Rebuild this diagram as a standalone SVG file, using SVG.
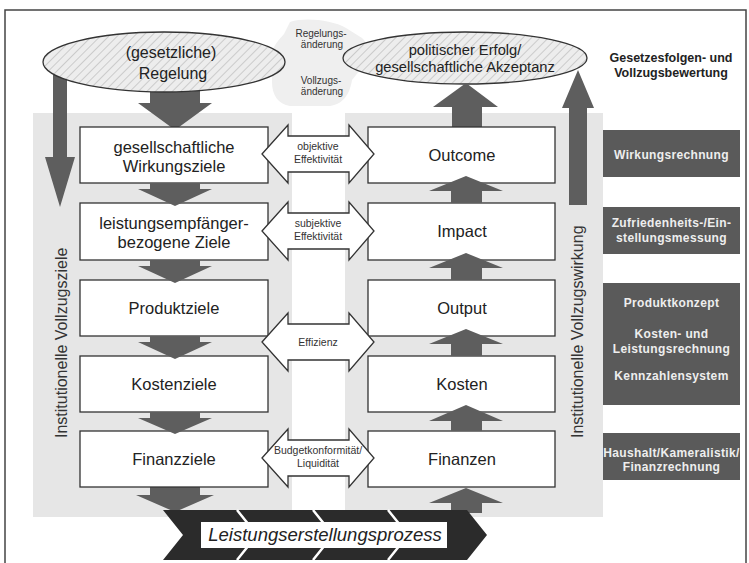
<svg xmlns="http://www.w3.org/2000/svg" width="749" height="563" viewBox="0 0 749 563">
  <style>
    text { font-family: "Liberation Sans", Arial, sans-serif; fill: #222; }
    .box { fill: #ffffff; stroke: #333; stroke-width: 1.3; }
    .lbl { font-size: 16.5px; text-anchor: middle; }
    .ell { fill: url(#hatch); stroke: #333; stroke-width: 1.3; }
    .elltxt { text-anchor: middle; }
    .dbl { fill: #ffffff; stroke: #333; stroke-width: 1.3; }
    .small { font-size: 10.5px; text-anchor: middle; fill: #333; }
    .note { font-size: 10px; text-anchor: middle; fill: #333; }
    .arrow { fill: #5e5e5e; }
    .panel { fill: #e6e6e6; }
    .dark { fill: #5a5a5a; }
    .darktxt { font-size: 12px; font-weight: bold; fill: #eeeeee; text-anchor: middle; letter-spacing: 0.35px; }
    .vert { font-size: 16px; fill: #333; }
  </style>
  <defs>
    <pattern id="hatch" width="6" height="6" patternUnits="userSpaceOnUse" patternTransform="rotate(45)">
      <rect width="6" height="6" fill="#ededed"/>
      <line x1="0" y1="0" x2="0" y2="6" stroke="#b5b5b5" stroke-width="1.2"/>
    </pattern>
  </defs>

  <rect width="749" height="563" fill="#ffffff"/>
  <!-- outer frame -->
  <rect x="5" y="10" width="741" height="560" fill="none" stroke="#444" stroke-width="1.5"/>

  <!-- background panels -->
  <g id="panels">
    <rect class="panel" x="33" y="113" width="259" height="404"/>
    <rect class="panel" x="345" y="113" width="258" height="404"/>
    <path d="M290,22 C305,17 332,20 346,28 L362,38 C371,46 369,62 360,70 L352,80 C350,93 344,104 330,106 L290,106 C278,104 272,95 272,82 L272,56 C272,46 279,40 284,34 Z" fill="#efefef"/>
  </g>

  <!-- centre notes -->
  <g id="notes">
    <text class="note" x="321" y="37">Regelungs-</text>
    <text class="note" x="322" y="48">änderung</text>
    <text class="note" x="321" y="84">Vollzugs-</text>
    <text class="note" x="322" y="95">änderung</text>
  </g>

  <!-- connectors drawn beneath the nodes -->
  <g id="connectors">
    <!-- big vertical arrows -->
    <path class="arrow" d="M53,75 L67,75 L67,157 L75,157 L60,207 L45,157 L53,157 Z"/>
    <path class="arrow" d="M569,205 L587,205 L587,108 L594,108 L578,70 L562,108 L569,108 Z"/>
    <!-- from the law down to the first goal -->
    <path class="arrow" d="M150,85 L200,85 L200,103 L212,103 L175,130 L138,103 L150,103 Z"/>
    <!-- into the process chevron -->
    <path class="arrow" d="M150,487 L200,487 L200,495 L214,495 L175,512 L136,495 L150,495 Z"/>
    <path class="arrow" d="M451,513 L482,513 L482,503 L503,503 L466,488 L429,503 L451,503 Z"/>
  </g>

  <!-- ellipses -->
  <g id="regelung">
    <ellipse class="ell" cx="164" cy="62" rx="121" ry="30"/>
    <text class="elltxt" x="171" y="58" style="font-size:16px">(gesetzliche)</text>
    <text class="elltxt" x="173" y="79" style="font-size:16px">Regelung</text>
  </g>
  <g id="erfolg">
    <ellipse class="ell" cx="465" cy="58" rx="122" ry="26"/>
    <text class="elltxt" x="465" y="55" style="font-size:14.7px">politischer Erfolg/</text>
    <text class="elltxt" x="465" y="72" style="font-size:14.7px">gesellschaftliche Akzeptanz</text>
  </g>
  <!-- arrow from Outcome up to the ellipse -->
  <path class="arrow" d="M452,127 L482,127 L482,107 L498,107 L466,83 L433,107 L452,107 Z"/>

  <!-- left column -->
  <g id="wirkungsziele">
    <rect class="box" x="80" y="127" width="188" height="56"/>
    <text class="lbl" x="174" y="153">gesellschaftliche</text>
    <text class="lbl" x="174" y="172">Wirkungsziele</text>
  </g>
  <g id="leistungsempfaenger">
    <rect class="box" x="80" y="203" width="188" height="57"/>
    <text class="lbl" x="174" y="229">leistungsempfänger-</text>
    <text class="lbl" x="174" y="248">bezogene Ziele</text>
  </g>
  <g id="produktziele">
    <rect class="box" x="80" y="280" width="188" height="56"/>
    <text class="lbl" x="174" y="314">Produktziele</text>
  </g>
  <g id="kostenziele">
    <rect class="box" x="80" y="356" width="188" height="56"/>
    <text class="lbl" x="174" y="390">Kostenziele</text>
  </g>
  <g id="finanzziele">
    <rect class="box" x="80" y="431" width="188" height="56"/>
    <text class="lbl" x="174" y="465">Finanzziele</text>
  </g>

  <!-- right column -->
  <g id="outcome">
    <rect class="box" x="368" y="127" width="187" height="56"/>
    <text class="lbl" x="462" y="161">Outcome</text>
  </g>
  <g id="impact">
    <rect class="box" x="368" y="203" width="187" height="57"/>
    <text class="lbl" x="462" y="237">Impact</text>
  </g>
  <g id="output">
    <rect class="box" x="368" y="280" width="187" height="56"/>
    <text class="lbl" x="462" y="314">Output</text>
  </g>
  <g id="kosten">
    <rect class="box" x="368" y="356" width="187" height="56"/>
    <text class="lbl" x="462" y="390">Kosten</text>
  </g>
  <g id="finanzen">
    <rect class="box" x="368" y="431" width="187" height="56"/>
    <text class="lbl" x="462" y="465">Finanzen</text>
  </g>

  <!-- arrows between the boxes, drawn over the box edges -->
  <g id="connectors-between">
    <path class="arrow" d="M150,183 L200,183 L200,189 L212,189 L175,206 L138,189 L150,189 Z"/>
    <path class="arrow" d="M150,260 L200,260 L200,266 L212,266 L175,283 L138,266 L150,266 Z"/>
    <path class="arrow" d="M150,336 L200,336 L200,342 L212,342 L175,359 L138,342 L150,342 Z"/>
    <path class="arrow" d="M150,412 L200,412 L200,418 L212,418 L175,434 L138,418 L150,418 Z"/>
    <path class="arrow" d="M451,203 L482,203 L482,191 L503,191 L466,176 L429,191 L451,191 Z"/>
    <path class="arrow" d="M451,280 L482,280 L482,268 L503,268 L466,253 L429,268 L451,268 Z"/>
    <path class="arrow" d="M451,356 L482,356 L482,344 L503,344 L466,329 L429,344 L451,344 Z"/>
    <path class="arrow" d="M451,431 L482,431 L482,421 L503,421 L466,405 L429,421 L451,421 Z"/>
  </g>

  <!-- double arrows -->
  <g id="objektive-effektivitaet">
    <path class="dbl" d="M262,154 L288,125 L288,136 L349,136 L349,125 L374,154 L349,183 L349,172 L288,172 L288,183 Z"/>
    <text class="small" x="318" y="150">objektive</text>
    <text class="small" x="318" y="163">Effektivität</text>
  </g>
  <g id="subjektive-effektivitaet">
    <path class="dbl" d="M262,231 L288,202 L288,213 L349,213 L349,202 L374,231 L349,260 L349,249 L288,249 L288,260 Z"/>
    <text class="small" x="318" y="227">subjektive</text>
    <text class="small" x="318" y="240">Effektivität</text>
  </g>
  <g id="effizienz">
    <path class="dbl" d="M262,342 L288,313 L288,324 L349,324 L349,313 L374,342 L349,371 L349,360 L288,360 L288,371 Z"/>
    <text class="small" x="318" y="346">Effizienz</text>
  </g>
  <g id="budgetkonformitaet">
    <path class="dbl" d="M262,458 L288,429 L288,440 L349,440 L349,429 L374,458 L349,487 L349,476 L288,476 L288,487 Z"/>
    <text class="small" x="318" y="454">Budgetkonformität/</text>
    <text class="small" x="318" y="467">Liquidität</text>
  </g>

  <!-- vertical labels -->
  <text class="vert" transform="translate(67,438) rotate(-90)">Institutionelle Vollzugsziele</text>
  <text class="vert" transform="translate(583,438) rotate(-90)">Institutionelle Vollzugswirkung</text>

  <!-- process chevron -->
  <g id="leistungserstellungsprozess">
    <path d="M163,510 L467,510 L487,535 L467,560 L163,560 L183,535 Z" fill="#2b2b2b"/>
    <path d="M237,510 L257,535 L237,560 M313,510 L333,535 L313,560 M388,510 L408,535 L388,560" fill="none" stroke="#ffffff" stroke-width="2.5"/>
    <rect x="201" y="522" width="246" height="26" fill="#ffffff"/>
    <text x="325" y="541" text-anchor="middle" style="font-size:18.5px;font-style:italic">Leistungserstellungsprozess</text>
  </g>

  <!-- evaluation column -->
  <g id="bewertung">
    <text x="671" y="62" text-anchor="middle" style="font-size:12.5px;font-weight:bold">Gesetzesfolgen- und</text>
    <text x="671" y="77" text-anchor="middle" style="font-size:12.5px;font-weight:bold">Vollzugsbewertung</text>
  </g>
  <g id="wirkungsrechnung">
    <rect class="dark" x="603" y="130" width="137" height="47"/>
    <text class="darktxt" x="671.5" y="159">Wirkungsrechnung</text>
  </g>
  <g id="zufriedenheit">
    <rect class="dark" x="603" y="207" width="137" height="47"/>
    <text class="darktxt" x="671.5" y="227">Zufriedenheits-/Ein-</text>
    <text class="darktxt" x="671.5" y="242">stellungsmessung</text>
  </g>
  <g id="produktkonzept">
    <rect class="dark" x="603" y="283" width="137" height="122"/>
    <text class="darktxt" x="671.5" y="307">Produktkonzept</text>
    <text class="darktxt" x="671.5" y="338">Kosten- und</text>
    <text class="darktxt" x="671.5" y="353">Leistungsrechnung</text>
    <text class="darktxt" x="671.5" y="380">Kennzahlensystem</text>
  </g>
  <g id="haushalt">
    <rect class="dark" x="603" y="433" width="137" height="47"/>
    <text class="darktxt" x="671.5" y="457">Haushalt/Kameralistik/</text>
    <text class="darktxt" x="671.5" y="471">Finanzrechnung</text>
  </g>
</svg>
